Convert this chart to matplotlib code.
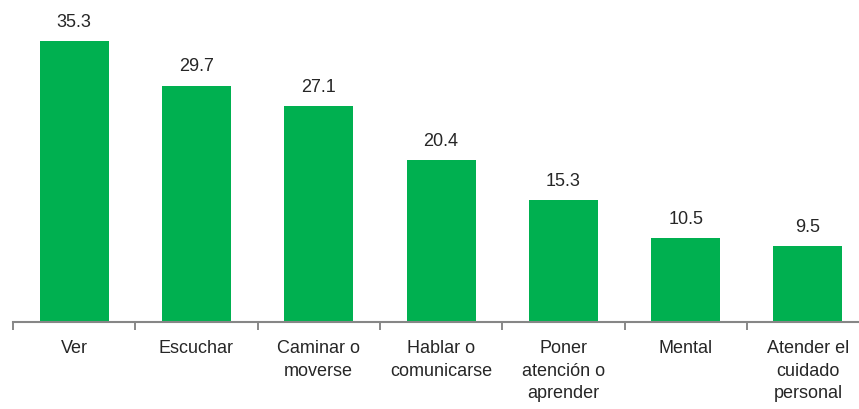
import matplotlib.pyplot as plt
import numpy as np

categorias = ["Ver", "Escuchar", "Caminar o\nmoverse", "Hablar o\ncomunicarse",
              "Poner\natención o\naprender", "Mental", "Atender el\ncuidado\npersonal"]
valores = [35.3, 29.7, 27.1, 20.4, 15.3, 10.5, 9.5]

plt.rcParams['font.family'] = ['Liberation Sans', 'DejaVu Sans']

fig = plt.figure(figsize=(8.59, 4.10), dpi=100)
ax = fig.add_axes([13/859, 87/410, 846/859, 323/410])

x = np.arange(len(categorias))
ax.bar(x, valores, width=0.565, color='#00B050')

for xi, v in zip(x, valores):
    ax.annotate("{:.1f}".format(v), (xi, v), textcoords="offset points",
                xytext=(0, 8), ha='center', va='bottom', fontsize=13, color='#262626')

ax.set_xticks(x)
ax.set_xticklabels(categorias, fontsize=13, color='#262626', linespacing=1.45)
ax.tick_params(axis='x', which='major', length=0, pad=12)
ax.set_xticks(np.arange(-0.5, len(categorias), 1), minor=True)
ax.tick_params(axis='x', which='minor', length=6, width=1.3, color='#7f7f7f', direction='out')

# limites depois dos ticks (set_xticks expande a vista)
ax.set_xlim(-0.5, -0.5 + 846/122.3)
ax.set_ylim(0, 323/7.96)

ax.set_yticks([])
for s in ['top', 'right', 'left']:
    ax.spines[s].set_visible(False)
ax.spines['bottom'].set_color('#868686')
ax.spines['bottom'].set_linewidth(1.5)

fig.savefig('out.png', dpi=100)
